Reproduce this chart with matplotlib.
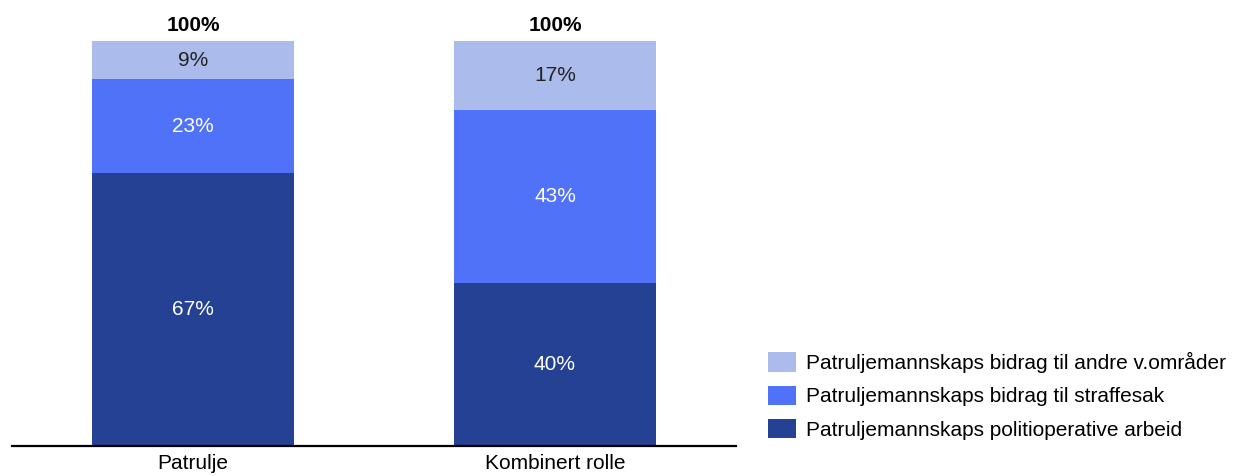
import matplotlib.pyplot as plt
import numpy as np

plt.rcParams['font.family'] = ['Liberation Sans', 'DejaVu Sans']

categories = ['Patrulje', 'Kombinert rolle']
series_names = [
    'Patruljemannskaps politioperative arbeid',
    'Patruljemannskaps bidrag til straffesak',
    'Patruljemannskaps bidrag til andre v.områder',
]
# values (bottom to top)
politioperativ = [67.4, 40.3]
straffesak = [23.2, 42.7]
andre = [9.4, 17.0]
totals = [100, 100]

colors = ['#254193', '#5072F8', '#ABBBEB']
label_colors = ['white', 'white', '#222222']

fig = plt.figure(figsize=(12.39, 4.76), dpi=100)
ax = fig.add_axes([12 / 1239, 30 / 476, 724 / 1239, 405 / 476])

x = np.arange(len(categories))
width = 0.558
bottom = np.zeros(len(categories))
bars = []
for vals, col, lcol, name in zip([politioperativ, straffesak, andre], colors, label_colors, series_names):
    vals = np.array(vals)
    b = ax.bar(x, vals, width, bottom=bottom, color=col, label=name, edgecolor='none')
    bars.append(b)
    for xi, v, bt in zip(x, vals, bottom):
        ax.text(xi, bt + v / 2, '{:.0f}%'.format(v), ha='center', va='center',
                color=lcol, fontsize=15)
    bottom = bottom + vals

for xi, t in zip(x, totals):
    ax.text(xi, t + 1.5, '{}%'.format(t), ha='center', va='bottom',
            fontsize=15, fontweight='bold', color='black')

ax.set_xlim(-0.5, 1.5)
ax.set_ylim(0, 100)
ax.set_xticks(x)
ax.set_xticklabels(categories, fontsize=15)
ax.tick_params(axis='x', length=0, pad=6)
ax.set_yticks([])
for s in ['top', 'right', 'left']:
    ax.spines[s].set_visible(False)
ax.spines['bottom'].set_linewidth(1.6)
ax.spines['bottom'].set_color('black')

handles = [bars[2], bars[1], bars[0]]
labels = [series_names[2], series_names[1], series_names[0]]
fig.legend(handles, labels, loc='upper left', bbox_to_anchor=(768 / 1239, 1 - 352 / 476),
           frameon=False, fontsize=15, borderpad=0, borderaxespad=0,
           handlelength=1.35, handleheight=1.06, handletextpad=0.45, labelspacing=0.6)

fig.savefig('out.png', dpi=100)
